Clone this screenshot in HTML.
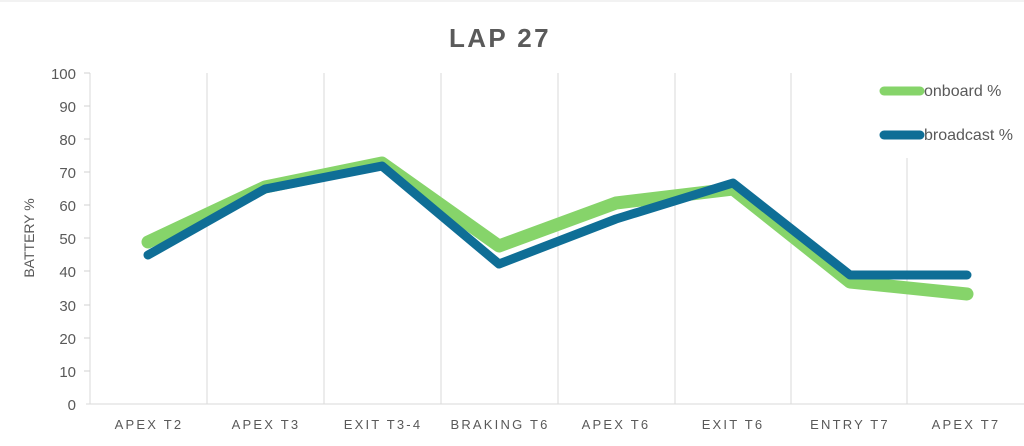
<!DOCTYPE html>
<html><head><meta charset="utf-8"><style>
html,body{margin:0;padding:0;background:#fff;}
svg{display:block;font-family:"Liberation Sans",sans-serif;}
</style></head><body>
<svg width="1024" height="446" viewBox="0 0 1024 446">
<rect width="1024" height="446" fill="#fff"/>
<line x1="0" y1="1" x2="1024" y2="1" stroke="#e6e6e6"/>
<text x="500" y="47" text-anchor="middle" font-size="26" font-weight="bold" fill="#5a5a5a" letter-spacing="2.4">LAP 27</text>
<g stroke="#dadada" stroke-width="1">
<line x1="90" y1="73" x2="90" y2="404"/>
<line x1="207" y1="73" x2="207" y2="404"/>
<line x1="324" y1="73" x2="324" y2="404"/>
<line x1="441" y1="73" x2="441" y2="404"/>
<line x1="558" y1="73" x2="558" y2="404"/>
<line x1="675" y1="73" x2="675" y2="404"/>
<line x1="791" y1="73" x2="791" y2="404"/>
<line x1="907" y1="158" x2="907" y2="404"/>
<line x1="86" y1="404" x2="1024" y2="404"/>
</g>
<g stroke="#d0d0d0"><line x1="84" y1="73" x2="90" y2="73"/><line x1="84" y1="106" x2="90" y2="106"/><line x1="84" y1="139" x2="90" y2="139"/><line x1="84" y1="172" x2="90" y2="172"/><line x1="84" y1="205" x2="90" y2="205"/><line x1="84" y1="238" x2="90" y2="238"/><line x1="84" y1="271" x2="90" y2="271"/><line x1="84" y1="305" x2="90" y2="305"/><line x1="84" y1="338" x2="90" y2="338"/><line x1="84" y1="371" x2="90" y2="371"/></g>
<g font-size="15" fill="#595959" text-anchor="end">
<text x="76" y="79">100</text><text x="76" y="112">90</text><text x="76" y="145">80</text><text x="76" y="178">70</text><text x="76" y="211">60</text><text x="76" y="244">50</text><text x="76" y="277">40</text><text x="76" y="311">30</text><text x="76" y="344">20</text><text x="76" y="377">10</text><text x="76" y="410">0</text>
</g>
<text transform="translate(34,238) rotate(-90)" text-anchor="middle" font-size="14" fill="#595959">BATTERY %</text>
<g font-size="13" fill="#595959" text-anchor="middle" letter-spacing="2.2">
<text x="149" y="429">APEX T2</text><text x="266" y="429">APEX T3</text><text x="383" y="429">EXIT T3-4</text><text x="500" y="429">BRAKING T6</text><text x="616" y="429">APEX T6</text><text x="733" y="429">EXIT T6</text><text x="850" y="429">ENTRY T7</text><text x="966" y="429">APEX T7</text>
</g>
<polyline fill="none" stroke="#86d46a" stroke-width="13" stroke-linejoin="round" stroke-linecap="round" points="148,242 265,187 382,163 499,246 616,203 733,189 850,282 967,294"/>
<polyline fill="none" stroke="#0f6e96" stroke-width="9" stroke-linejoin="round" stroke-linecap="round" points="148,255 265,189 382,166 499,264 616,219 733,183 850,275 967,275"/>
<line x1="884" y1="91" x2="920" y2="91" stroke="#86d46a" stroke-width="9" stroke-linecap="round"/>
<line x1="884" y1="135" x2="920" y2="135" stroke="#0f6e96" stroke-width="9" stroke-linecap="round"/>
<text x="924" y="96" font-size="16" fill="#595959">onboard %</text>
<text x="924" y="140" font-size="16" fill="#595959">broadcast %</text>
</svg>
</body></html>
